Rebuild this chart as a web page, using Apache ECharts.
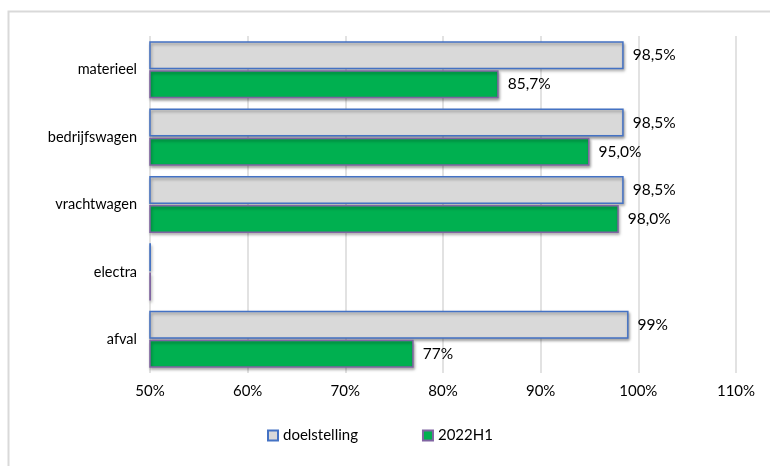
<!DOCTYPE html>
<html>
<head>
<meta charset="utf-8">
<script src="https://cdn.jsdelivr.net/npm/echarts@6/dist/echarts.min.js"></script>
<style>html,body{margin:0;padding:0;background:#fff}#c{width:770px;height:466px}</style>
</head>
<body>
<div id="c"></div>
<script>
var categories = ['materieel', 'bedrijfswagen', 'vrachtwagen', 'electra', 'afval'];
var doelstelling = [98.5, 98.5, 98.5, 50.1, 99];
var h2022 = [85.7, 95.0, 98.0, 50.1, 77];
var doelLabels = ['98,5%', '98,5%', '98,5%', '', '99%'];
var h2022Labels = ['85,7%', '95,0%', '98,0%', '', '77%'];
var xTicks = [50, 60, 70, 80, 90, 100, 110];

var FONT = 'Lato';
var chart = echarts.init(document.getElementById('c'));
chart.setOption({
  animation: false,
  textStyle: { fontFamily: FONT },
  graphic: [{
    type: 'rect', left: 6, top: 9, silent: true,
    shape: { width: 800, height: 500 },
    style: { fill: 'none', stroke: '#D9D9D9', lineWidth: 2 }
  }],
  grid: { left: 150, right: 34, top: 36, bottom: 93 },
  legend: {
    bottom: 18, left: 262,
    icon: 'rect',
    itemWidth: 10, itemHeight: 10, itemGap: 64,
    textStyle: { fontFamily: FONT, fontSize: 15, color: '#000' },
    data: ['doelstelling', '2022H1']
  },
  xAxis: {
    type: 'value', min: 50, max: 110, interval: 10,
    axisLine: { show: false }, axisTick: { show: false },
    splitLine: { lineStyle: { color: '#D9D9D9', width: 1.5 } },
    axisLabel: {
      fontFamily: FONT, fontSize: 15, color: '#000', margin: 11,
      formatter: function (v) { return xTicks.indexOf(v) >= 0 ? v + '%' : ''; }
    }
  },
  yAxis: {
    type: 'category', data: categories, inverse: true,
    axisLine: { show: false }, axisTick: { show: false },
    axisLabel: { fontFamily: FONT, fontSize: 14.5, color: '#000', margin: 13 }
  },
  series: [{
    name: 'doelstelling', type: 'bar', data: doelstelling,
    barWidth: 28, barGap: '4%',
    itemStyle: {
      color: '#D9D9D9', borderColor: '#4472C4', borderWidth: 1.5,
      shadowColor: 'rgba(0,0,0,0.35)', shadowBlur: 3, shadowOffsetX: 1, shadowOffsetY: 2
    },
    label: {
      show: true, position: 'right', distance: 9,
      fontFamily: FONT, fontSize: 15.5, color: '#000',
      formatter: function (p) { return doelLabels[p.dataIndex]; }
    }
  }, {
    name: '2022H1', type: 'bar', data: h2022,
    barWidth: 28,
    itemStyle: {
      color: '#00B050', borderColor: '#8064A2', borderWidth: 1.5,
      shadowColor: 'rgba(0,0,0,0.35)', shadowBlur: 3, shadowOffsetX: 1, shadowOffsetY: 2
    },
    label: {
      show: true, position: 'right', distance: 9,
      fontFamily: FONT, fontSize: 15.5, color: '#000',
      formatter: function (p) { return h2022Labels[p.dataIndex]; }
    }
  }]
});
</script>
</body>
</html>
